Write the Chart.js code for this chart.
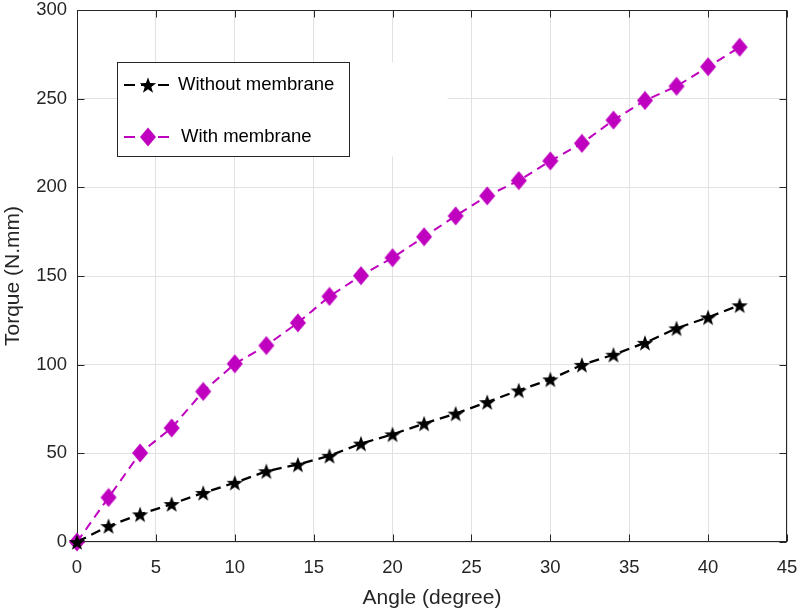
<!DOCTYPE html>
<html>
<head>
<meta charset="utf-8">
<title>Torque vs angle</title>
<script src="https://cdn.jsdelivr.net/npm/chart.js@4.4.1/dist/chart.umd.min.js"></script>
<style>
  html, body { margin: 0; padding: 0; background: #fff; }
  #wrap { position: relative; width: 800px; height: 614px; }
</style>
</head>
<body>
<div id="wrap"><canvas id="torqueChart"></canvas></div>
<script>
// data
const angles = [0, 2, 4, 6, 8, 10, 12, 14, 16, 18, 20, 22, 24, 26, 28, 30, 32, 34, 36, 38, 40, 42];
const torqueWithout = [0, 9, 15.6, 21.4, 27.7, 33.4, 39.9, 43.7, 48.6, 55.5, 60.7, 66.8, 72.4, 78.9, 85.5, 91.7, 99.9, 105.6, 112.3, 120.5, 126.7, 133.5];
const torqueWith = [0, 25.1, 50.2, 64.3, 84.9, 100.5, 110.8, 123.6, 138.5, 150.2, 160.3, 172.1, 183.9, 195.2, 203.8, 214.9, 224.8, 237.9, 249, 257, 268, 279];
const xTicks = [0, 5, 10, 15, 20, 25, 30, 35, 40, 45];
const yTicks = [0, 50, 100, 150, 200, 250, 300];
const seriesNames = ['Without membrane', 'With membrane'];

const $ = id => document.getElementById(id);

const INK = '#262626';
const MAGENTA = '#bf00bf';
const FONT = "'Liberation Sans', Arial, Helvetica, sans-serif";

// marker images (filled star / diamond like matlab)
function makeStar(color) {
  const c = document.createElement('canvas');
  c.width = 20; c.height = 20;
  const g = c.getContext('2d');
  g.fillStyle = color;
  g.beginPath();
  for (let i = 0; i < 10; i++) {
    const r = i % 2 === 0 ? 8.6 : 3.5;
    const a = -Math.PI / 2 + i * Math.PI / 5;
    const px = 10 + r * Math.cos(a), py = 10.8 + r * Math.sin(a);
    if (i === 0) g.moveTo(px, py); else g.lineTo(px, py);
  }
  g.closePath();
  g.fill();
  return c;
}

function makeDiamond(color) {
  const c = document.createElement('canvas');
  c.width = 18; c.height = 20;
  const g = c.getContext('2d');
  g.fillStyle = color;
  g.beginPath();
  g.moveTo(9, 0.5); g.lineTo(17, 10); g.lineTo(9, 19.5); g.lineTo(1, 10);
  g.closePath();
  g.fill();
  return c;
}

const starImg = makeStar('#000');
const diamondImg = makeDiamond(MAGENTA);

const toPoints = ys => angles.map((a, i) => ({ x: a, y: ys[i] }));

// drop the label overflow padding so the plot box sits where matlab put it
function noPad(s) {
  s.paddingLeft = 0; s.paddingRight = 0; s.paddingTop = 0; s.paddingBottom = 0;
}

// box, inward ticks and the legend
const matlabAxes = {
  id: 'matlabAxes',
  beforeDatasetsDraw(chart) {
    const { ctx, chartArea: ca, scales } = chart;
    const L = Math.round(ca.left) + 0.5, R = Math.round(ca.right) - 0.5;
    const T = Math.round(ca.top) + 0.5, B = Math.round(ca.bottom) - 0.5;
    ctx.save();
    ctx.strokeStyle = INK;
    ctx.lineWidth = 1;
    ctx.strokeRect(L, T, R - L, B - T);
    ctx.beginPath();
    const tl = 7;
    xTicks.forEach(v => {
      const px = Math.round(scales.x.getPixelForValue(v)) + 0.5;
      ctx.moveTo(px, B); ctx.lineTo(px, B - tl);
      ctx.moveTo(px, T); ctx.lineTo(px, T + tl);
    });
    yTicks.forEach(v => {
      const py = Math.round(scales.y.getPixelForValue(v)) + 0.5;
      ctx.moveTo(L, py); ctx.lineTo(L + tl, py);
      ctx.moveTo(R, py); ctx.lineTo(R - tl, py);
    });
    ctx.stroke();
    ctx.restore();
  },
  afterDatasetsDraw(chart) {
    const { ctx } = chart;
    const bx = 117.5, by = 62.5, bw = 232, bh = 94;
    ctx.save();
    ctx.fillStyle = '#fff';
    ctx.fillRect(bx, by, 330, bh);
    ctx.strokeStyle = INK;
    ctx.lineWidth = 1;
    ctx.strokeRect(bx, by, bw, bh);
    const rows = [
      { y: 85, img: starImg, color: '#000', width: 2.2, dash: [11, 6] },
      { y: 137, img: diamondImg, color: MAGENTA, width: 2, dash: [11, 6] }
    ];
    rows.forEach((r, i) => {
      ctx.strokeStyle = r.color;
      ctx.lineWidth = r.width;
      ctx.setLineDash(r.dash);
      ctx.beginPath();
      ctx.moveTo(124, r.y); ctx.lineTo(173, r.y);
      ctx.stroke();
      ctx.setLineDash([]);
      ctx.drawImage(r.img, 148 - r.img.width / 2, r.y - r.img.height / 2);
      ctx.fillStyle = '#000';
      ctx.font = `18.5px ${FONT}`;
      ctx.textBaseline = 'middle';
      ctx.fillText(seriesNames[i], i === 0 ? 178 : 181, r.y);
    });
    ctx.restore();
  }
};

const tickFont = { family: FONT, size: 18.5 };
const titleFont = { family: FONT, size: 21 };

new Chart($('torqueChart'), {
  type: 'line',
  data: {
    datasets: [
      {
        label: seriesNames[0],
        data: toPoints(torqueWithout),
        borderColor: '#000',
        backgroundColor: '#000',
        borderWidth: 2.3,
        borderDash: [10, 6],
        pointStyle: starImg,
        tension: 0,
        clip: false
      },
      {
        label: seriesNames[1],
        data: toPoints(torqueWith),
        borderColor: MAGENTA,
        backgroundColor: MAGENTA,
        borderWidth: 2,
        borderDash: [9, 6],
        pointStyle: diamondImg,
        tension: 0,
        clip: false
      }
    ]
  },
  options: {
    responsive: true,
    maintainAspectRatio: false,
    animation: false,
    layout: { autoPadding: false, padding: { top: 10, right: 13, left: 0, bottom: 0 } },
    plugins: {
      legend: { display: false },
      tooltip: { enabled: false }
    },
    scales: {
      x: {
        type: 'linear',
        min: 0,
        max: 45,
        afterBuildTicks: s => { s.ticks = xTicks.map(v => ({ value: v })); },
        afterFit: s => { s.height = 72; noPad(s); },
        grid: { color: '#e2e2e2', drawTicks: false },
        border: { display: false },
        ticks: { font: tickFont, color: INK, padding: 15, maxRotation: 0 },
        title: { display: true, text: 'Angle (degree)', font: titleFont, color: INK, padding: { top: 0, bottom: 3 } }
      },
      y: {
        type: 'linear',
        min: 0,
        max: 300,
        afterBuildTicks: s => { s.ticks = yTicks.map(v => ({ value: v })); },
        afterFit: s => { s.width = 77; noPad(s); },
        grid: { color: '#e2e2e2', drawTicks: false },
        border: { display: false },
        ticks: { font: tickFont, color: INK, padding: 10 },
        title: { display: true, text: 'Torque (N.mm)', font: titleFont, color: INK, padding: { top: 1, bottom: 0 } }
      }
    }
  },
  plugins: [matlabAxes]
});
</script>
</body>
</html>
